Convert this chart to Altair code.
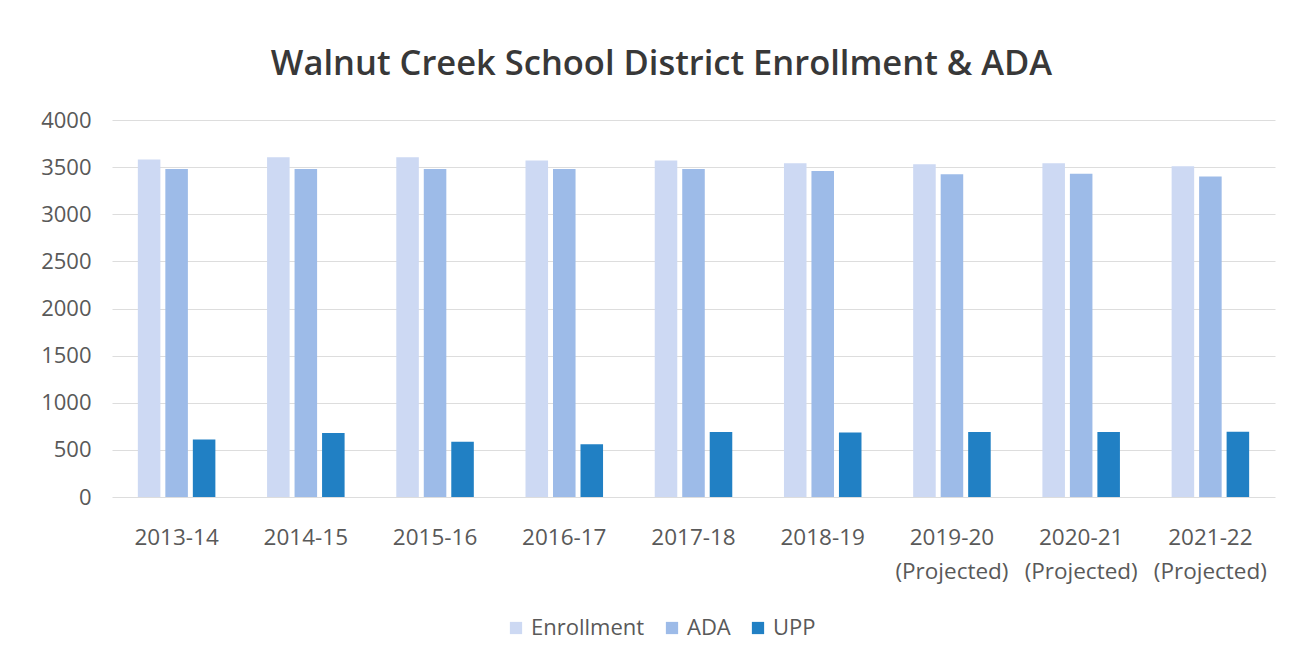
import altair as alt
import pandas as pd

years = ["2013-14", "2014-15", "2015-16", "2016-17", "2017-18", "2018-19",
         "2019-20 (Projected)", "2020-21 (Projected)", "2021-22 (Projected)"]
enrollment = [3580, 3605, 3605, 3570, 3570, 3540, 3530, 3540, 3510]
ada = [3480, 3480, 3480, 3480, 3480, 3460, 3425, 3430, 3400]
upp = [610, 680, 585, 560, 690, 685, 690, 690, 692]
series = ["Enrollment", "ADA", "UPP"]
colors = ["#cdd9f3", "#9dbbe8", "#2180c4"]

rows = []
for i, y in enumerate(years):
    for s, vals in zip(series, [enrollment, ada, upp]):
        rows.append({"Year": y, "Series": s, "Value": vals[i]})
df = pd.DataFrame(rows)

font = "Open Sans"

chart = alt.Chart(df).mark_bar().encode(
    x=alt.X("Year:N", sort=years,
            scale=alt.Scale(paddingInner=0.4),
            axis=alt.Axis(title=None, labelExpr="split(datum.label, ' ')",
                          labelAngle=0, labelFontSize=22.5, labelColor="#595959",
                          labelFont=font, labelLineHeight=34, labelPadding=29,
                          ticks=False, domain=False)),
    xOffset=alt.XOffset("Series:N", sort=series, scale=alt.Scale(paddingInner=0.18)),
    y=alt.Y("Value:Q", scale=alt.Scale(domain=[0, 4000]),
            axis=alt.Axis(title=None, values=[0, 500, 1000, 1500, 2000, 2500, 3000, 3500, 4000],
                          format="d",
                          labelFontSize=22, labelColor="#595959", labelFont=font,
                          labelPadding=21, ticks=False, domain=False,
                          gridColor="#dddddd", gridWidth=1)),
    color=alt.Color("Series:N", sort=series,
                    scale=alt.Scale(domain=series, range=colors),
                    legend=alt.Legend(title=None, orient="none", direction="horizontal",
                                      legendX=393, legendY=497,
                                      symbolType="square", symbolSize=150,
                                      symbolStrokeWidth=0,
                                      labelFontSize=22, labelColor="#595959",
                                      labelFont=font, columnPadding=16,
                                      labelOffset=4)),
).properties(
    width=1163,
    height=377,
    background="white",
    title=alt.TitleParams("Walnut Creek School District Enrollment & ADA",
                          fontSize=34.5, font=font, fontWeight=600,
                          color="#383838", offset=27, dx=-32),
    padding={"left": 104, "top": 112, "right": 10, "bottom": 161},
    autosize=alt.AutoSizeParams(type="none"),
).configure_view(strokeWidth=0)

chart.save("out.html", embed_options={"renderer": "svg", "actions": False})
